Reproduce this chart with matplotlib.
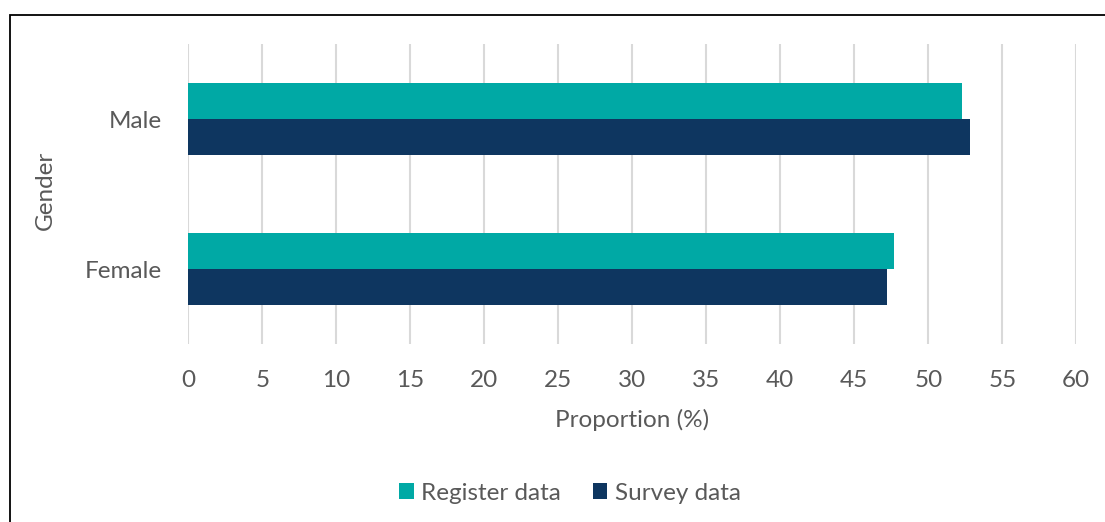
import matplotlib
matplotlib.use("Agg")
import matplotlib.pyplot as plt
from matplotlib.patches import Rectangle
import numpy as np

categories = ["Female", "Male"]
register_data = [47.7, 52.3]
survey_data = [47.2, 52.8]
series_labels = ["Register data", "Survey data"]
xticks = list(range(0, 61, 5))

plt.rcParams['font.family'] = ['Lato', 'DejaVu Sans']
W, H = 1105, 522
fig = plt.figure(figsize=(W/100, H/100), dpi=100)
ax = fig.add_axes([188.3/W, 1 - 344/H, (1076.3-188.3)/W, 300/H])

FS = 17.5
TC = '#595959'
y = np.arange(len(categories))
h = 0.24
c_reg = "#00A9A5"
c_sur = "#0E3660"
ax.barh(y + h/2, register_data, height=h, color=c_reg, label=series_labels[0], zorder=3)
ax.barh(y - h/2, survey_data, height=h, color=c_sur, label=series_labels[1], zorder=3)

ax.set_xlim(0, 60)
ax.set_ylim(-0.5, 1.5)
ax.set_xticks(xticks)
ax.set_yticks(y)
ax.set_yticklabels(categories)
ax.grid(axis='x', color='#D9D9D9', lw=1.5, zorder=0)
for s in ax.spines.values():
    s.set_visible(False)
ax.tick_params(length=0, colors=TC, labelsize=FS)
ax.tick_params(axis='x', pad=18.5)
ax.tick_params(axis='y', pad=19)
ax.set_xlabel("Proportion (%)", fontsize=FS, color=TC)
ax.set_ylabel("Gender", fontsize=FS, color=TC)
ax.xaxis.set_label_coords(0.5, -(420 - 344) / 300)
ax.xaxis.label.set_va('center')
ax.yaxis.set_label_coords((45 - 188.3) / 888, (344 - 190) / 300)
ax.yaxis.label.set_va('center')

leg = fig.legend(loc='center', bbox_to_anchor=(570/W, 1 - 493/H), ncol=2, frameon=False,
                 fontsize=FS, handlelength=0.6, handleheight=0.6, handletextpad=0.3,
                 columnspacing=1.3)
for t in leg.get_texts():
    t.set_color(TC)

fig.patches.append(Rectangle((10/W, -0.1), 1.2, 1 - 15/H + 0.1, transform=fig.transFigure,
                             fill=False, edgecolor='black', lw=1.3))

fig.savefig("out.png", dpi=100)
